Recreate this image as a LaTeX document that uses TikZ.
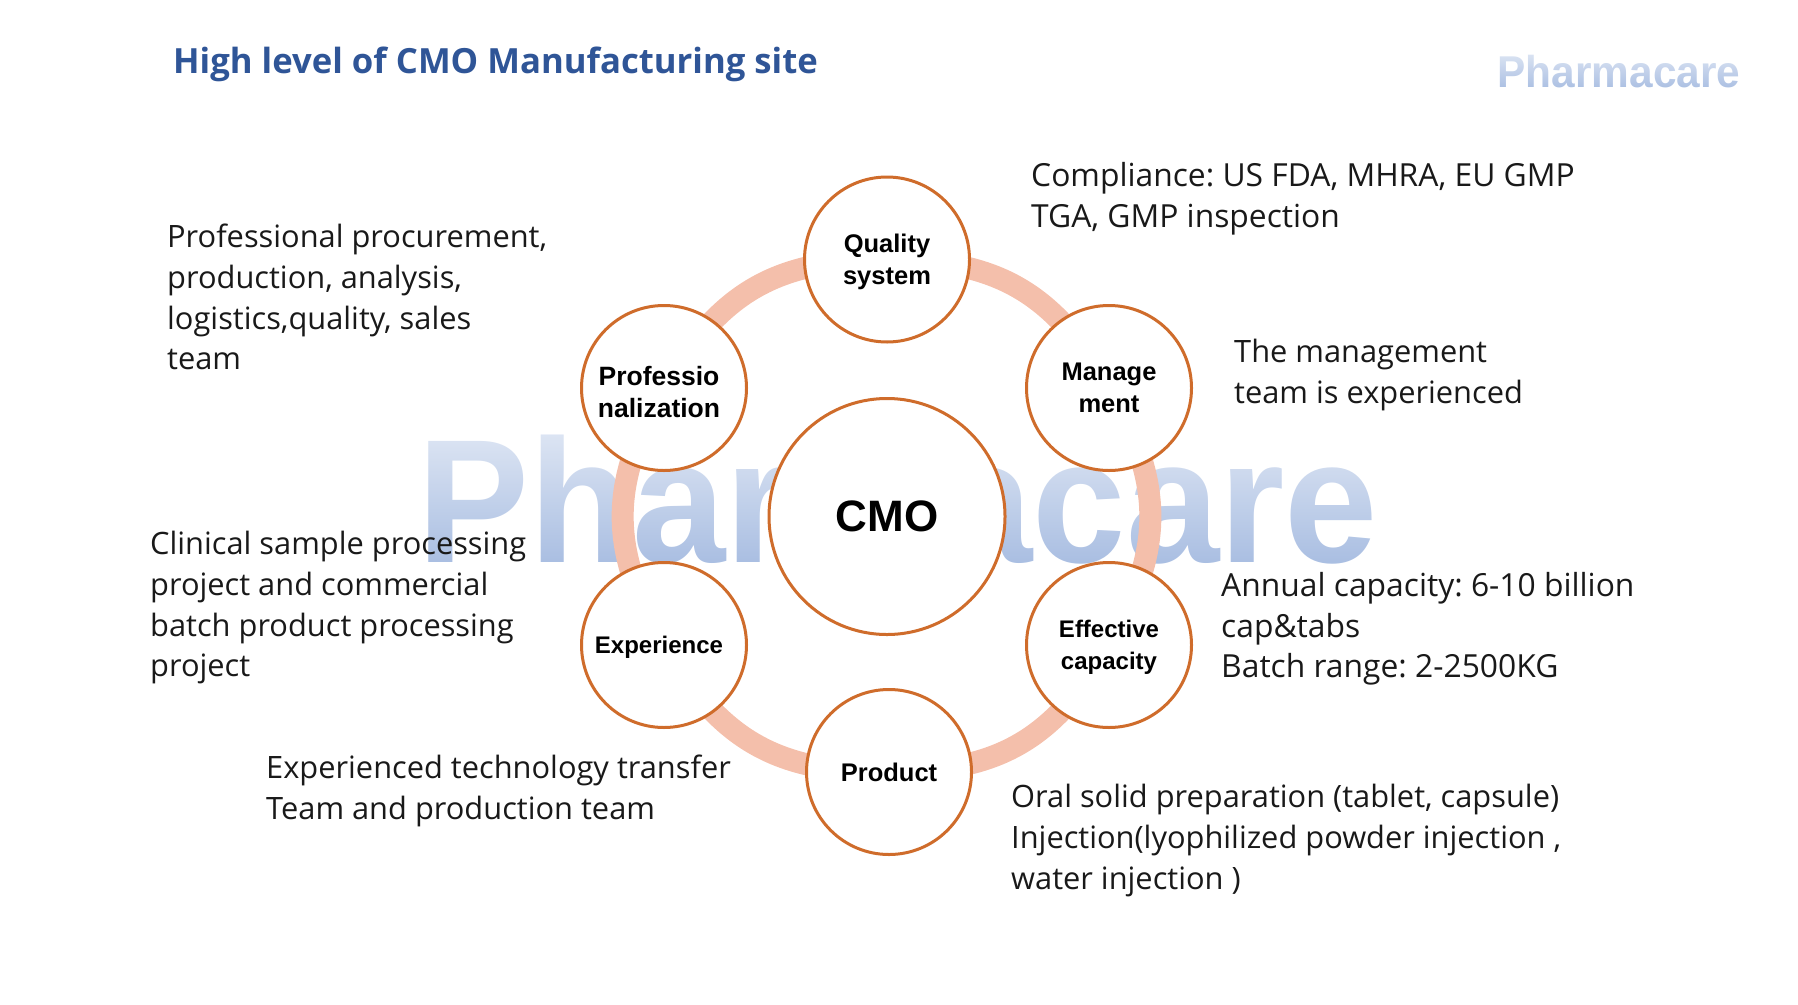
\documentclass[tikz,border=0pt]{standalone}
\usepackage{fontspec}
\setmainfont{Open Sans}
\newfontfamily\labelfont{Liberation Sans}
\usetikzlibrary{backgrounds,fadings}
\definecolor{ringline}{HTML}{CF6C2B}
\definecolor{ringband}{HTML}{F4BFAB}
\definecolor{titleblue}{HTML}{2F5597}
\definecolor{markblue}{HTML}{A9BEE2}
\tikzfading[name=markfade,top color=transparent!36,bottom color=transparent!100]
\newcommand{\pxfont}[2]{\fontsize{#1}{#2}\selectfont}
\frenchspacing
\tikzset{
  hubnode/.style={circle,draw=ringline,line width=3pt,fill=white,minimum size=236pt,inner sep=0pt,
    font=\labelfont\bfseries\pxfont{44}{50}},
  topicnode/.style={circle,draw=ringline,line width=3pt,fill=white,minimum size=165pt,inner sep=0pt,
    align=center,font=\labelfont\bfseries\pxfont{25.5}{32}},
  notetext/.style={anchor=north west,align=left,inner sep=0pt,text=black!90,font=\pxfont{30.8}{40.7}},
  widenote/.style={notetext,font=\pxfont{31.8}{40.7}},
  bandlink/.style={line width=22pt,draw=ringband,bend left=30,looseness=1.1},
}
\begin{document}
\begin{tikzpicture}[x=1pt,y=-1pt]
  \useasboundingbox (0,0) rectangle (1798,1004);
  \node[anchor=base west,inner sep=0pt,text=titleblue,font=\bfseries\pxfont{34.7}{40}] (title) at (173,73)
    {High level of CMO Manufacturing site};
  % circles
  \node[hubnode] (cmo) at (887,516.5) {CMO};
  \node[topicnode] (quality) at (887,259.5) {\rule{0pt}{23pt}Quality\\system};
  \node[topicnode] (management) at (1109,388) {Manage\\ment};
  \node[topicnode,font=\labelfont\bfseries\pxfont{24}{32}] (capacity) at (1109,645) {\rule{0pt}{22pt}Effective\\capacity};
  \node[topicnode] (product) at (889,772) {Product};
  \node[topicnode,font=\labelfont\bfseries\pxfont{24}{32}] (experience) at (664,645) {\rule{0pt}{22pt}\hspace*{-10pt}Experience};
  \node[topicnode,font=\labelfont\bfseries\pxfont{26.5}{32}] (profession) at (664,388) {\rule{0pt}{27.5pt}\hspace*{-10pt}Professio\\\hspace*{-10pt}nalization};
  % notes
  \node[widenote] (notequality) at (1031,162) {Compliance: US FDA, MHRA, EU GMP\\TGA, GMP inspection};
  \node[notetext] (noteprofession) at (167,224) {Professional procurement,\\production, analysis,\\logistics,quality, sales\\team};
  \node[notetext] (notemanagement) at (1234,339) {The management\\team is experienced};
  \node[notetext] (noteexperience) at (150,531) {Clinical sample processing\\project and commercial\\batch product processing\\project};
  \node[widenote] (notecapacity) at (1221,572) {Annual capacity: 6-10 billion\\cap\&tabs\\Batch range: 2-2500KG};
  \node[notetext] (noteteam) at (266,755) {Experienced technology transfer\\Team and production team};
  \node[notetext] (noteproduct) at (1011,784) {Oral solid preparation (tablet, capsule)\\Injection(lyophilized powder injection ,\\water injection )};
  % watermarks and ring behind the circles
  \begin{scope}[on background layer]
    \node[anchor=base west,inner sep=0pt,text=markblue,xscale=.953,transform shape,
      font=\labelfont\bfseries\pxfont{176}{180}] (markbig) at (417.5,562) {Pharmacare};
    \fill[white,path fading=markfade] (405,425) rectangle (1390,565);
    \node[anchor=base west,inner sep=0pt,text=markblue,xscale=.95,transform shape,
      font=\labelfont\bfseries\pxfont{44.6}{50}] (marksmall) at (1497.5,87) {Pharmacare};
    \fill[white,path fading=markfade] (1495,50) rectangle (1745,90);
    \draw[bandlink] (quality.center) to (management.center);
    \draw[bandlink] (management.center) to (capacity.center);
    \draw[bandlink] (capacity.center) to (product.center);
    \draw[bandlink] (product.center) to (experience.center);
    \draw[bandlink] (experience.center) to (profession.center);
    \draw[bandlink] (profession.center) to (quality.center);
  \end{scope}
\end{tikzpicture}
\end{document}
